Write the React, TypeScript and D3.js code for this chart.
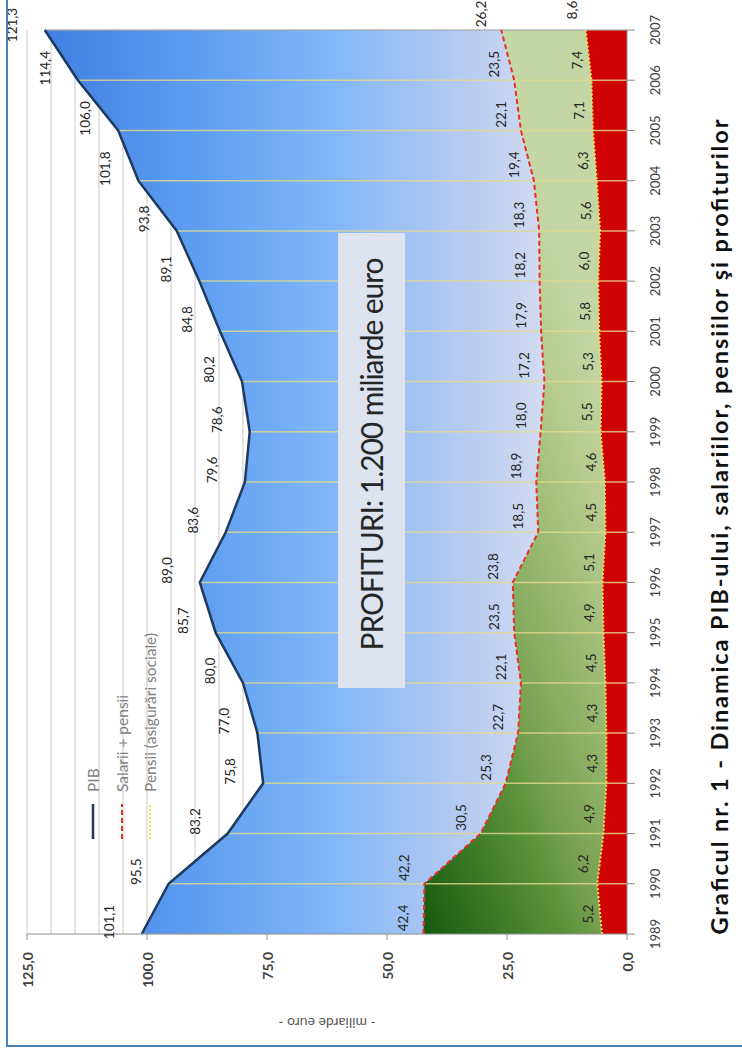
import React from "react";
import * as d3 from "d3";

const years = [1989, 1990, 1991, 1992, 1993, 1994, 1995, 1996, 1997, 1998, 1999, 2000, 2001, 2002, 2003, 2004, 2005, 2006, 2007];
const pib = [101.1, 95.5, 83.2, 75.8, 77.0, 80.0, 85.7, 89.0, 83.6, 79.6, 78.6, 80.2, 84.8, 89.1, 93.8, 101.8, 106.0, 114.4, 121.3];
const salariiPensii = [42.4, 42.2, 30.5, 25.3, 22.7, 22.1, 23.5, 23.8, 18.5, 18.9, 18.0, 17.2, 17.9, 18.2, 18.3, 19.4, 22.1, 23.5, 26.2];
const pensii = [5.2, 6.2, 4.9, 4.3, 4.3, 4.5, 4.9, 5.1, 4.5, 4.6, 5.5, 5.3, 5.8, 6.0, 5.6, 6.3, 7.1, 7.4, 8.6];
const valueTicks = [0, 25, 50, 75, 100, 125];
const gridValues = d3.range(5, 126, 5);

const legendLabels = ["PIB", "Salarii + pensii", "Pensii (asigurări sociale)"];
const titleText = "Graficul nr. 1 - Dinamica PIB-ului, salariilor, pensiilor şi profiturilor";
const boxText = "PROFITURI: 1.200 miliarde euro";
const axisTitle = "- miliarde euro -";

const fmt = (v: number) => d3.format(".1f")(v).replace(".", ",");

export default function App() {
  const W = 742, H = 1053;
  const plotW = 904, plotH = 600;
  const x = d3.scaleLinear().domain([years[0], years[years.length - 1]]).range([0, plotW]);
  const y = d3.scaleLinear().domain([0, 125]).range([plotH, 0]);

  const area = d3.area<number>().x((_, i) => x(years[i])).y0(y(0)).y1((d) => y(d));
  const line = d3.line<number>().x((_, i) => x(years[i])).y((d) => y(d));

  const font = "Lato, 'Open Sans', sans-serif";
  const legendRows = [66, 95, 123];

  return (
    <svg width={W} height={H} style={{ position: "absolute", left: 0, top: 0, background: "#fff" }} fontFamily={font}>
      <defs>
        <linearGradient id="gBlue" x1="0" y1="0" x2="0" y2="1">
          <stop offset="0" stopColor="#3f7fe0" />
          <stop offset="0.25" stopColor="#5c9cf0" />
          <stop offset="0.5" stopColor="#82b8f8" />
          <stop offset="0.7" stopColor="#b2c9f1" />
          <stop offset="0.85" stopColor="#d0daf0" />
          <stop offset="1" stopColor="#dce2f0" />
        </linearGradient>
        <linearGradient id="gGreen" gradientUnits="userSpaceOnUse" x1={0} y1={y(42)} x2={130} y2={y(42) + 346}>
          <stop offset="0" stopColor="#175a0f" />
          <stop offset="0.35" stopColor="#5a9238" />
          <stop offset="0.45" stopColor="#78a050" />
          <stop offset="0.65" stopColor="#98b870" />
          <stop offset="0.85" stopColor="#b8cc90" />
          <stop offset="1" stopColor="#c4d6a4" />
        </linearGradient>
      </defs>
      <g transform="translate(27,934) rotate(-90)">
        {gridValues.map((v) => (
          <line key={"g" + v} x1={0} x2={plotW} y1={y(v)} y2={y(v)} stroke="#c8c8c8" strokeWidth={1} />
        ))}
        <path d={area(pib) || ""} fill="url(#gBlue)" />
        <path d={area(salariiPensii) || ""} fill="url(#gGreen)" />
        <path d={area(pensii) || ""} fill="#cf0303" />
        {years.slice(1).map((yr, i) => (
          <line key={"yl" + yr} x1={x(yr)} x2={x(yr)} y1={y(0)} y2={y(pib[i + 1])}
            stroke={yr === 2007 ? "#a8a8a8" : "#e2d98e"} strokeOpacity={0.8} strokeWidth={1.5} />
        ))}
        <path d={line(pensii) || ""} fill="none" stroke="#f2e050" strokeWidth={2} strokeDasharray="2 2" />
        <path d={line(salariiPensii) || ""} fill="none" stroke="#e8302a" strokeWidth={2} strokeDasharray="5 3" />
        <path d={line(pib) || ""} fill="none" stroke="#1f3a60" strokeWidth={2.5} />

        {/* value axis */}
        <line x1={0} x2={0} y1={0} y2={plotH} stroke="#8c8c8c" />
        {valueTicks.map((v) => (
          <g key={"vt" + v}>
            <line x1={-6} x2={0} y1={y(v)} y2={y(v)} stroke="#8c8c8c" />
            <text x={-18} y={y(v)} textAnchor="end" dominantBaseline="central" fontSize={14} fontWeight={700} fill="#404040">{fmt(v)}</text>
          </g>
        ))}
        {/* category axis */}
        <line x1={0} x2={plotW} y1={plotH} y2={plotH} stroke="#8c8c8c" />
        {years.map((yr) => (
          <g key={"ct" + yr}>
            <line x1={x(yr)} x2={x(yr)} y1={plotH} y2={plotH + 8} stroke="#8c8c8c" />
            <text x={x(yr)} y={plotH + 28} textAnchor="middle" dominantBaseline="central" fontSize={13} fill="#404040">{yr}</text>
          </g>
        ))}
        <text transform={`translate(-89,${plotH / 2}) rotate(-90)`} textAnchor="middle" dominantBaseline="central" fontSize={14} fill="#595959">{axisTitle}</text>

        {/* data labels */}
        {pib.map((v, i) => (
          <text key={"lp" + i} x={x(years[i]) + (i === pib.length - 1 ? 5 : 12)} y={y(v) - 33} textAnchor="middle" dominantBaseline="central" fontSize={13.5} fill="#262626">{fmt(v)}</text>
        ))}
        {salariiPensii.map((v, i) => (
          <text key={"ls" + i} x={x(years[i]) + 16} y={y(v) - 20} textAnchor="middle" dominantBaseline="central" fontSize={13.5} fill="#262626">{fmt(v)}</text>
        ))}
        {pensii.map((v, i) => (
          <text key={"lq" + i} x={x(years[i]) + 20} y={y(v) - 14} textAnchor="middle" dominantBaseline="central" fontSize={13.5} fill="#262626">{fmt(v)}</text>
        ))}

        {/* legend */}
        <g>
          <line x1={95} x2={130} y1={legendRows[0]} y2={legendRows[0]} stroke="#1f3a60" strokeWidth={2.5} />
          <line x1={95} x2={130} y1={legendRows[1]} y2={legendRows[1]} stroke="#e8302a" strokeWidth={2} strokeDasharray="5 3" />
          <line x1={95} x2={130} y1={legendRows[2]} y2={legendRows[2]} stroke="#f2e050" strokeWidth={2} strokeDasharray="2 2" />
          {legendLabels.map((t, i) => (
            <text key={"lg" + i} x={142} y={legendRows[i]} dominantBaseline="central" fontSize={15.5} fill="#7f7f7f">{t}</text>
          ))}
        </g>

        {/* profit box */}
        <rect x={246} y={311} width={455} height={67} fill="#dde4ef" />
        <text x={480} y={344} textAnchor="middle" dominantBaseline="central" fontSize={30} fill="#262626" textLength={393} lengthAdjust="spacing">{boxText}</text>

        {/* title */}
        <text x={407} y={701} textAnchor="middle" fontSize={23.5} fontWeight={700} fill="#111" textLength={815} lengthAdjust="spacing">{titleText}</text>
      </g>
      <path d="M7,-2 V1046 H744" stroke="#4a7ebb" strokeWidth={2} fill="none" />
    </svg>
  );
}
